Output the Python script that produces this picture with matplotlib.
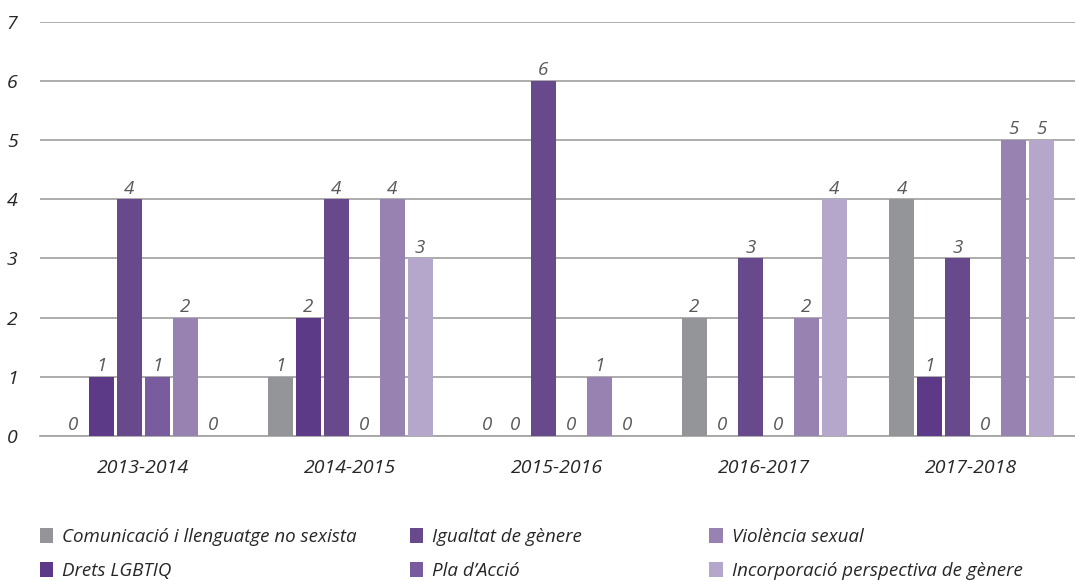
import matplotlib.pyplot as plt
import matplotlib
import numpy as np

plt.rcParams.update({
    "font.family": ["Open Sans", "DejaVu Sans"],
    "font.style": "italic",
})

years = ["2013-2014", "2014-2015", "2015-2016", "2016-2017", "2017-2018"]
series = ["Comunicació i llenguatge no sexista", "Drets LGBTIQ", "Igualtat de gènere",
          "Pla d’Acció", "Violència sexual", "Incorporació perspectiva de gènere"]
comunicacio = [0, 1, 0, 2, 4]
drets = [1, 2, 0, 0, 1]
igualtat = [4, 4, 6, 3, 3]
pla = [1, 0, 0, 0, 0]
violencia = [2, 4, 1, 2, 5]
incorporacio = [0, 3, 0, 4, 5]
values = [comunicacio, drets, igualtat, pla, violencia, incorporacio]
colors = ["#939598", "#5d3a87", "#684a8c", "#785c9e", "#9882b2", "#b5a7cb"]

fig = plt.figure(figsize=(10.75, 5.81), dpi=100)
ax = fig.add_axes([0.037, 0.25, 0.963, 0.712])

x = np.arange(len(years))
pitch = 0.135
width = 0.121
bars = []
for i, (vals, c) in enumerate(zip(values, colors)):
    pos = x + (i - 2.5) * pitch
    b = ax.bar(pos, vals, width=width, color=c, label=series[i], zorder=3)
    bars.append(b)
    for p, v in zip(pos, vals):
        ax.text(p, v + 0.03, str(v), ha='center', va='bottom', fontsize=13.5,
                color='#595959', zorder=4)

ax.set_xlim(-0.5, 4.5)
ax.set_ylim(0, 7)
ax.set_yticks(range(8))
ax.set_xticks(x)
ax.set_xticklabels(years)
ax.tick_params(axis='both', length=0, labelsize=14, colors='#262626')
ax.tick_params(axis='x', pad=17)
ax.tick_params(axis='y', pad=16)
ax.grid(True, axis='y', color='#a6a6a6', linewidth=1.3, zorder=0)
for s in ['top', 'right', 'left']:
    ax.spines[s].set_visible(False)
ax.spines['bottom'].set_color('#a6a6a6')
ax.spines['bottom'].set_linewidth(1.3)

# legend in three columns placed by hand
col_x = [0.030, 0.374, 0.653]
for k in range(3):
    hs = [bars[2 * k], bars[2 * k + 1]]
    ls = [series[2 * k], series[2 * k + 1]]
    leg = fig.legend(hs, ls, loc='upper left', bbox_to_anchor=(col_x[k], 0.104),
                     frameon=False, fontsize=13.5, handlelength=0.7, handleheight=0.8,
                     handletextpad=0.5, labelspacing=0.85, borderaxespad=0,
                     labelcolor='#262626')

fig.savefig("out.png", dpi=100)
